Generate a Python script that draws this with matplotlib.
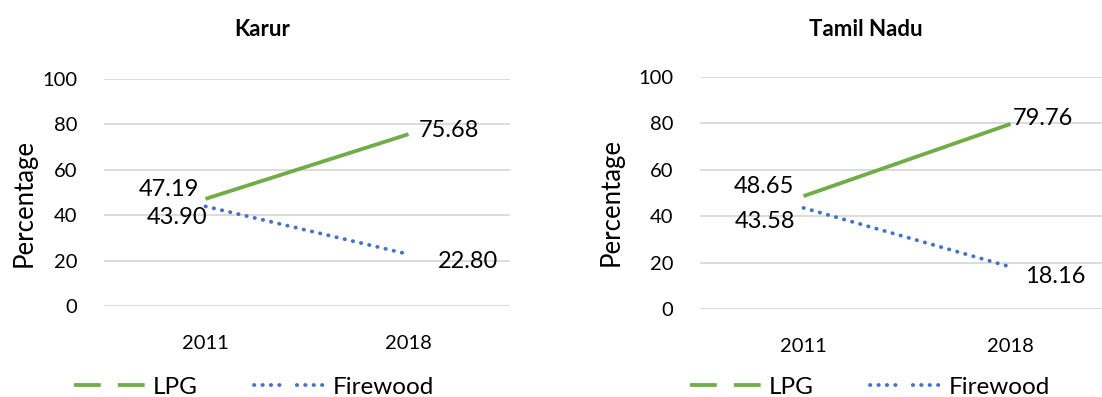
import matplotlib.pyplot as plt
from matplotlib.lines import Line2D

plt.rcParams['font.family'] = ['Lato', 'DejaVu Sans']

years = ['2011', '2018']
regions = ['Karur', 'Tamil Nadu']
lpg = {'Karur': [47.19, 75.68], 'Tamil Nadu': [48.65, 79.76]}
firewood = {'Karur': [43.90, 22.80], 'Tamil Nadu': [43.58, 18.16]}

green = '#70AD47'
blue = '#4472C4'
grid_col = '#D9D9D9'

W, H = 1102, 397
fig = plt.figure(figsize=(W / 100, H / 100), dpi=100)

# axes boxes in pixels: left, bottom(from top), width, height
boxes = {'Karur': (104, 306, 406, 227), 'Tamil Nadu': (700, 309, 414, 232)}
title_x = {'Karur': 262, 'Tamil Nadu': 866}
legend_x = {'Karur': 254, 'Tamil Nadu': 870}
ylabel_pos = {'Karur': (-0.165, 0.454), 'Tamil Nadu': (-0.184, 0.46)}

# label offsets in pixels (dx, dy) and alignment, per point
lab_lpg = {'Karur': [(-6, 9, 'right'), (10, 4, 'left')],
           'Tamil Nadu': [(-9, 10, 'right'), (2, 5, 'left')]}
lab_fw = {'Karur': [(2, -11, 'right'), (29, -7, 'left')],
          'Tamil Nadu': [(-8, -14, 'right'), (15, -10, 'left')]}

px = 0.72  # points per pixel at 100 dpi
dots = (0, (0.1, 2.1))

for r in regions:
    l, b, w, h = boxes[r]
    ax = fig.add_axes([l / W, (H - b) / H, w / W, h / H])
    x = range(len(years))
    ax.plot(x, lpg[r], color=green, lw=2.75, solid_capstyle='butt')
    ax.plot(x, firewood[r], color=blue, lw=2.75, linestyle=dots,
            dash_capstyle='round')

    for vals, offs in ((lpg[r], lab_lpg[r]), (firewood[r], lab_fw[r])):
        for i, v in enumerate(vals):
            dx, dy, ha = offs[i]
            ax.annotate(f'{v:.2f}', (i, v), xytext=(dx * px, dy * px),
                        textcoords='offset points', ha=ha, va='center',
                        fontsize=17, color='black')

    ax.set_xlim(-0.5, 1.5)
    ax.set_ylim(0, 100)
    ax.set_xticks(list(x))
    ax.set_xticklabels(years)
    ax.set_yticks(range(0, 101, 20))
    ax.tick_params(axis='both', length=0, labelsize=14.5, colors='black')
    ax.tick_params(axis='y', pad=19)
    ax.tick_params(axis='x', pad=21)
    ax.grid(axis='y', color=grid_col, lw=1.3)
    ax.set_axisbelow(True)
    for s in ax.spines.values():
        s.set_visible(False)
    ax.set_ylabel('Percentage', fontsize=18.5)
    ax.yaxis.set_label_coords(*ylabel_pos[r])

    fig.text(title_x[r] / W, 1 - 29 / H, r, ha='center', va='center',
             fontsize=16, fontweight='bold')

    handles = [Line2D([], [], color=green, lw=2.75, linestyle=(0, (7, 4.5))),
               Line2D([], [], color=blue, lw=2.75, dash_capstyle='round',
                      linestyle=(0, (0.1, 2.1, 0.1, 2.1, 0.1, 2.1, 0.1, 4.5)))]
    ax.legend(handles, ['LPG', 'Firewood'], loc='center',
              bbox_to_anchor=(legend_x[r] / W, 10 / H),
              bbox_transform=fig.transFigure, ncol=2, frameon=False,
              fontsize=17.5, handlelength=2.95, handletextpad=0.3,
              columnspacing=2.3, borderpad=0)

fig.savefig('out.png', dpi=100)
